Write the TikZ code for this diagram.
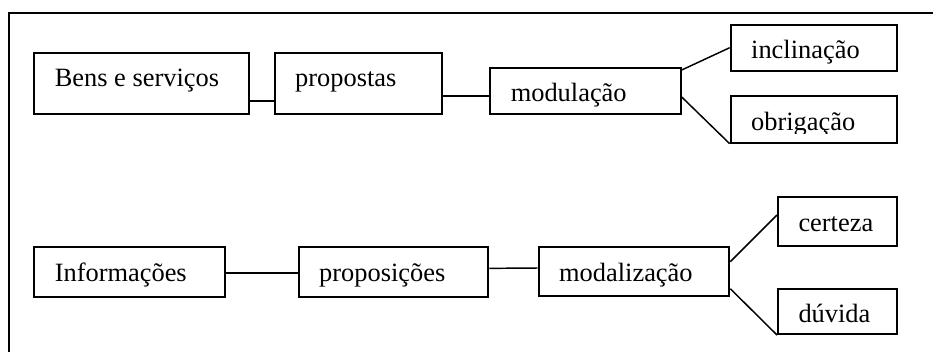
\documentclass[tikz,border=0pt]{standalone}
\usepackage{fontspec}
\setmainfont{Liberation Serif}
\begin{document}
\begin{tikzpicture}[x=0.75pt,y=-0.75pt,
  boxtext/.style={draw=none, minimum width=0pt, minimum height=0pt, anchor=base west,
    inner sep=0pt, font=\fontsize{19.8}{24}\selectfont},
  box/.style n args={3}{draw, line width=1.5pt, inner sep=0pt, anchor=north west,
    minimum width=#1*0.75pt, minimum height=#2*0.75pt,
    path picture={\node[boxtext]
      at ([shift={(19.5,34)}]path picture bounding box.north west) {#3};}},
  clipbox/.style n args={3}{draw, line width=1.5pt, inner sep=0pt, anchor=north west,
    minimum width=#1*0.75pt, minimum height=#2*0.75pt,
    path picture={\clip (path picture bounding box.north west) rectangle
        ([shift={(0,37.5)}]path picture bounding box.north east);
      \node[boxtext]
      at ([shift={(19.5,34)}]path picture bounding box.north west) {#3};}},
  conn/.style={line width=1.1pt},
  frame/.style={line width=1.5pt}]
\useasboundingbox (0,0) rectangle (933,351);
\draw[frame] (933,12.7) -- (8.5,12.7) -- (8.5,352);
\node[box={214.4}{61.3}{Bens e serviços}] (bens) at (33.3,51.7) {};
\node[box={167}{61.3}{propostas}] (propostas) at (273.7,51.7) {};
\node[box={190.4}{46.3}{modulação}] (modul) at (489.3,66.7) {};
\node[box={166.6}{46}{inclinação}] (incl) at (729.7,23.7) {};
\node[clipbox={166.6}{46.4}{obrigação}] (obrig) at (729.7,95.3) {};
\node[box={190.7}{49.7}{Informações}] (info) at (33.3,246) {};
\node[box={189.6}{49.7}{proposições}] (propos) at (297.7,246) {};
\node[box={190.6}{49}{modalização}] (modal) at (537.7,246) {};
\node[box={119.3}{49}{certeza}] (cert) at (777,196) {};
\node[box={119.3}{45.3}{dúvida}] (duv) at (777,287.7) {};
\draw[conn] ([shift={(0,-14)}]bens.south east) -- ([shift={(0,-14)}]propostas.south west);
\draw[conn] ([shift={(0,-19)}]propostas.south east) -- ([shift={(0,-19)}]modul.south west);
\draw[conn] ([shift={(0,3.3)}]modul.north east) -- (incl.west);
\draw[conn] ([shift={(0,-18)}]modul.south east) -- (obrig.south west);
\draw[conn] ([shift={(0,1)}]info.east) -- ([shift={(0,1)}]propos.west);
\draw[conn] ([shift={(0,-3.5)}]propos.east) -- ([shift={(0,-3.5)}]modal.west);
\draw[conn] ([shift={(0,15.7)}]modal.north east) -- ([shift={(0,19)}]cert.north west);
\draw[conn] ([shift={(0,-8.3)}]modal.south east) -- (duv.south west);
\end{tikzpicture}
\end{document}
